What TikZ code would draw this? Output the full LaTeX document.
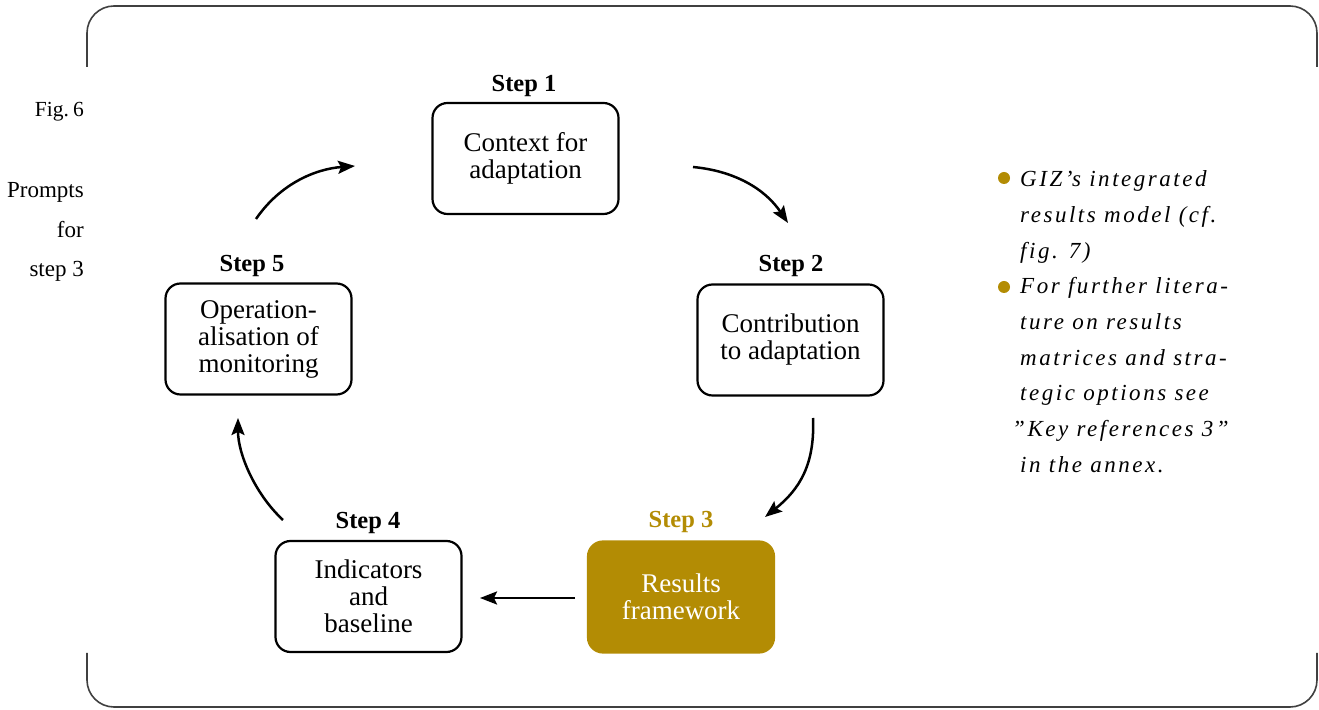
\documentclass[tikz,border=0pt]{standalone}
\usepackage{fontspec}
\setmainfont{Liberation Serif}
\newfontfamily\notefont[LetterSpace=11]{Liberation Serif}
\usetikzlibrary{arrows.meta}
\definecolor{gold}{HTML}{B38C04}
\begin{document}
\begin{tikzpicture}[x=1pt,y=1pt,
  stepbox/.style={draw, line width=2.2pt, rounded corners=15pt, minimum width=186pt, minimum height=111pt, align=center, font=\fontsize{27}{27}\selectfont, inner sep=0pt},
  steplabel/.style={anchor=base, inner sep=0pt, font=\bfseries\fontsize{24.5}{27}\selectfont},
  cyc/.style={line width=2.5pt, -{Stealth[length=17pt,width=13pt,inset=3pt]}},
  side/.style={anchor=base east, inner sep=0pt, font=\fontsize{23}{24}\selectfont},
  note/.style={anchor=base west, inner sep=0pt, font=\notefont\itshape\fontsize{23}{24}\selectfont},
  frame/.style={draw=black!75, line width=1.6pt, rounded corners=27pt}]
\useasboundingbox (0,0) rectangle (1319,709);
% frame brackets
\draw[frame] (87,642) -- (87,703) -- (1317,703) -- (1317,642);
\draw[frame] (87,56) -- (87,2) -- (1317,2) -- (1317,56);
% side text
\node[side, font=\fontsize{21.5}{24}\selectfont] (fig) at (84,592) {Fig.\kern4pt 6};
\node[side] (pr1) at (84,511) {Prompts};
\node[side] (pr2) at (84,471) {for};
\node[side] (pr3) at (84,432) {step 3};
% boxes
\node[stepbox] (s1) at (525.5,550.5) {Context for\\adaptation};
\node[stepbox] (s2) at (790.5,369) {Contribution\\to adaptation};
\node[stepbox, fill=gold, draw=gold, text=white] (s3) at (681,112) {Results\\framework};
\node[stepbox] (s4) at (368.5,112.5) {Indicators\\and\\baseline};
\node[stepbox] (s5) at (258.5,370) {Operation-\\alisation of\\monitoring};
% labels
\node[steplabel] (l1) at (524,617) {Step 1};
\node[steplabel] (l2) at (791,437) {Step 2};
\node[steplabel, text=gold] (l3) at (681,181) {Step 3};
\node[steplabel] (l4) at (368,180) {Step 4};
\node[steplabel] (l5) at (252,437) {Step 5};
% arrows
\coordinate (a1s) at (256,490); \coordinate (a1e) at (355,543);
\coordinate (a2s) at (693,542); \coordinate (a2e) at (788,486);
\coordinate (a3s) at (813,291); \coordinate (a3e) at (765,192);
\coordinate (a4s) at (575,111); \coordinate (a4e) at (480,111);
\coordinate (a5s) at (283,189); \coordinate (a5e) at (238,291);
\draw[cyc] (a1s) .. controls (280,525) and (315,540) .. (a1e);
\draw[cyc] (a2s) .. controls (735,538) and (765,520) .. (a2e);
\draw[cyc] (a3s) .. controls (815,245) and (800,220) .. (a3e);
\draw[cyc] (a4s) -- (a4e);
\draw[cyc] (a5s) .. controls (255,215) and (238,255) .. (a5e);
% notes
\fill[gold] (1004,531) circle (6);
\fill[gold] (1004,422) circle (6);
\node[note] (n1) at (1020,522) {GIZ’s integrated};
\node[note] (n2) at (1020,486.3) {results model (cf.};
\node[note] (n3) at (1020,450.5) {fig. 7)};
\node[note] (n4) at (1020,415) {For further litera-};
\node[note] (n5) at (1020,379) {ture on results};
\node[note] (n6) at (1020,343) {matrices and stra-};
\node[note] (n7) at (1020,308) {tegic options see};
\node[note] (n8) at (1012,272) {”Key references 3”};
\node[note] (n9) at (1020,236) {in the annex.};
\end{tikzpicture}
\end{document}
